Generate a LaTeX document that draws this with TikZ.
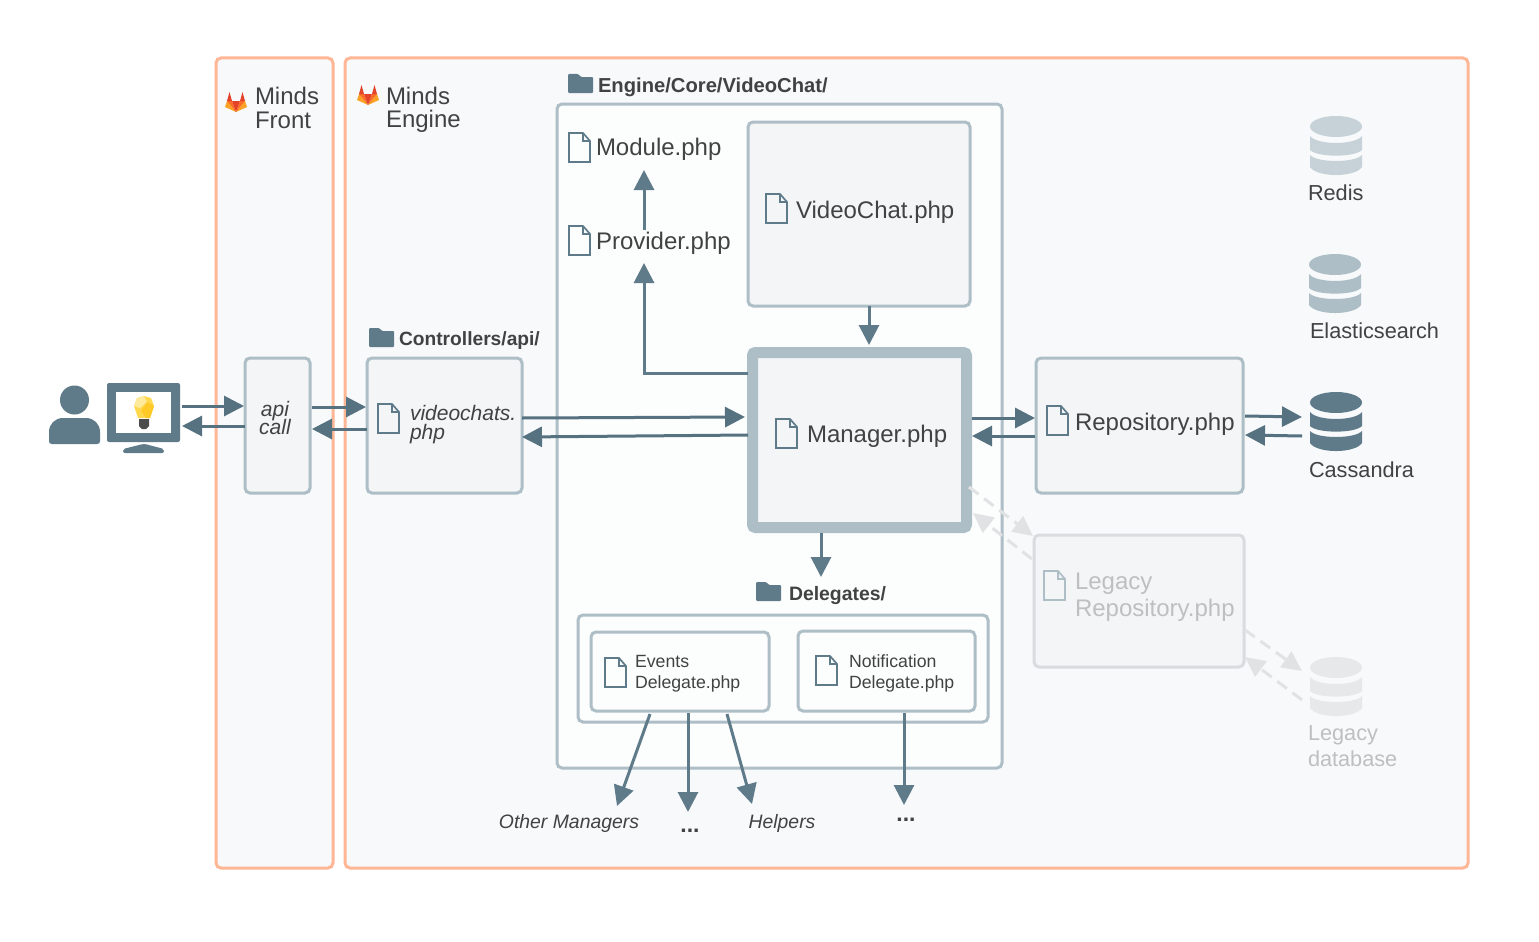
\documentclass[tikz,border=0pt]{standalone}
\usepackage{fontspec}
\setmainfont{Liberation Sans}
\usetikzlibrary{arrows.meta}
\definecolor{orangeb}{HTML}{FFB694}
\definecolor{panel}{HTML}{F7F9FB}
\definecolor{steel}{HTML}{AEBEC6}
\definecolor{slate}{HTML}{5F7B8A}
\definecolor{arrowc}{HTML}{56717F}
\definecolor{boxfill}{HTML}{F3F5F7}
\definecolor{inner}{HTML}{FCFDFD}
\definecolor{txt}{HTML}{424242}
\definecolor{faint}{HTML}{BDBFC1}
\definecolor{ghost}{HTML}{E0E2E3}
\definecolor{ghostb}{HTML}{D9DBDE}
\tikzset{
 x=1pt,y=-1pt,
 every node/.style={inner sep=0pt,outer sep=0pt,text=txt},
 pbox/.style={draw=steel,fill=boxfill,line width=3pt,rounded corners=5pt},
 flow/.style={draw=arrowc,line width=3pt,-{Triangle[length=20pt,width=20pt]}},
 vflow/.style={draw=slate,line width=3pt,-{Triangle[length=20pt,width=20pt]}},
 ghostflow/.style={draw=ghost,line width=3pt,dash pattern=on 12pt off 7pt,-{Triangle[length=20pt,width=19pt]}},
 lab/.style={anchor=west,align=left,yshift=-2.5pt,font=\fontsize{24}{28}\selectfont},
 small/.style={anchor=west,align=left,font=\fontsize{17.7}{22}\selectfont},
 dbl/.style={anchor=west,font=\fontsize{21.7}{24}\selectfont},
 ital/.style={anchor=west,font=\fontsize{21}{20}\selectfont\itshape},
 free/.style={font=\fontsize{19.4}{24}\selectfont\itshape,yshift=-2pt},
 dotsl/.style={font=\fontsize{23}{24}\selectfont\bfseries},
 head/.style={anchor=west,yshift=-2pt,font=\fontsize{#1}{24}\selectfont\bfseries},
}
\newcommand{\boxat}[6][]{\node[pbox,#1,minimum width=#4pt-#2pt,minimum height=#5pt-#3pt,anchor=north west] (#6) at (#2,#3) {};}
\newcommand{\fileicon}[3][slate]{\draw[#1,line width=1.7pt,line join=miter] (#2,#3) -- ++(14,0) -- ++(7,8) -- ++(0,21) -- ++(-21,0) -- cycle (#2+14,#3) -- ++(0,8) -- ++(7,0);}
\newcommand{\foldericon}[2]{\fill[slate,rounded corners=1pt] (#1,#2) -- ++(10,0) -- ++(3,3) -- ++(12,0) -- ++(0,16) -- ++(-25,0) -- cycle;}
\newcommand{\dbicon}[3]{\begin{scope}[shift={(#1,#2)}]
 \fill[#3] (26,10.5) ellipse[x radius=26,y radius=10.5];
 \fill[#3] (0,20) .. controls (7,29.3) and (45,29.3) .. (52,20) -- (52,34) .. controls (45,41.5) and (7,41.5) .. (0,34) -- cycle;
 \fill[#3] (0,39) .. controls (7,47) and (45,47) .. (52,39) -- (52,51) .. controls (45,61.7) and (7,61.7) .. (0,51) -- cycle;
\end{scope}}
\newcommand{\foxicon}[2]{\begin{scope}[shift={(#1,#2)}]
 \fill[foxc] (2,9) -- (0,15) -- (11,20) -- cycle (20,9) -- (22,15) -- (11,20) -- cycle;
 \fill[foxb] (2,9) -- (7,9) -- (11,20) -- cycle (20,9) -- (15,9) -- (11,20) -- cycle;
 \fill[foxa] (7,9) -- (15,9) -- (11,20) -- cycle (2,9) -- (4.5,0) -- (7,9) -- cycle (20,9) -- (17.5,0) -- (15,9) -- cycle;
\end{scope}}
\definecolor{foxa}{HTML}{E24329}
\definecolor{foxb}{HTML}{FC6D26}
\definecolor{foxc}{HTML}{FCA326}
\definecolor{bulba}{HTML}{FFD84D}
\definecolor{bulbb}{HTML}{FFC928}
\definecolor{bulbc}{HTML}{FFE99A}
\begin{document}
\begin{tikzpicture}
\useasboundingbox (0,0) rectangle (1539,942);
\fill[white] (0,0) rectangle (1539,942);
% regions
\node[draw=orangeb,fill=panel,line width=3pt,rounded corners=5pt,minimum width=117pt,minimum height=810pt,anchor=north west] (front) at (216,58) {};
\node[draw=orangeb,fill=panel,line width=3pt,rounded corners=5pt,minimum width=1123pt,minimum height=810pt,anchor=north west] (engine) at (345,58) {};
\node[draw=steel,fill=inner,line width=3pt,rounded corners=5pt,minimum width=445pt,minimum height=664pt,anchor=north west] (core) at (557,104) {};
\foxicon{225}{92}
\foxicon{357}{85}
\node[lab] (tfront) at (255,93) {Minds}; \node[lab] (tfront2) at (255,118) {Front};
\node[lab] (tengine) at (386,93) {Minds}; \node[lab] (tengine2) at (386,119) {Engine};
\foldericon{568}{74}
\node[head=20.2] (hcore) at (598,85) {Engine/Core/VideoChat/};
\foldericon{369}{328}
\node[head=19.2] (hctrl) at (399,339) {Controllers/api/};
\foldericon{756}{582}
\node[head=19.4] (hdel) at (789,594) {Delegates/};
% boxes
\boxat{245}{358}{310}{493}{api}
\boxat{367}{358}{522}{493}{vc}
\boxat{748}{122}{970}{306}{videochat}
\boxat[line width=11pt,rounded corners=3pt]{752.5}{352.5}{966.5}{527.5}{manager}
\boxat{1036}{358}{1243}{493}{repo}
\boxat[draw=ghostb]{1034}{535}{1244}{667}{legacy}
\boxat[fill=inner]{578}{615}{988}{722}{delout}
\boxat[fill=inner]{591}{632}{769}{711}{events}
\boxat[fill=inner]{798}{631}{975}{711}{notif}
% file icons & labels
\fileicon{569}{133}\node[lab] (module) at (596,147) {Module.php};
\fileicon{569}{226}\node[lab] (provider) at (596,241) {Provider.php};
\fileicon{766}{194}\node[lab] (tvc) at (796,210) {VideoChat.php};
\fileicon{776}{419}\node[lab] (tman) at (807,434) {Manager.php};
\fileicon{1047}{406}\node[lab] (trepo) at (1075,422) {Repository.php};
\fileicon[steel]{1044}{571}
\node[lab,text=faint] (tleg1) at (1075,581) {Legacy};
\node[lab,text=faint] (tleg2) at (1075,608) {Repository.php};
\fileicon{378}{404}
\node[ital] (tv1) at (410,413) {videochats.};
\node[ital] (tv2) at (410,434) {php};
\node[ital,anchor=center] (ta1) at (275,411) {api};
\node[ital,anchor=center] (ta2) at (275,427) {call};
\fileicon{605}{658}
\node[small] (te1) at (635,661) {Events}; \node[small] (te2) at (635,684) {Delegate.php};
\fileicon{816}{656}
\node[small] (tn1) at (849,661) {Notification}; \node[small] (tn2) at (849,684) {Delegate.php};
% databases
\dbicon{1310}{116}{steel!70}
\node[dbl] (redis) at (1308,193) {Redis};
\dbicon{1309}{254}{steel}
\node[dbl] (elastic) at (1310,331) {Elasticsearch};
\dbicon{1310}{392}{slate}
\coordinate (cass) at (1310,421);
\node[dbl] (tcass) at (1309,470) {Cassandra};
\dbicon{1310}{657}{ghost!80}
\coordinate (ldb) at (1310,686);
\node[dbl,text=faint] (tl1) at (1308,735) {Legacy};
\node[dbl,text=faint] (tl2) at (1308,759) {database};
% free labels
\node[free] (other) at (569,821) {Other Managers};
\node[free] (helpers) at (782,821) {Helpers};
\node[dotsl] (dots1) at (690,831) {...};
\node[dotsl] (dots2) at (906,820) {...};
% user and computer
\fill[slate] (74.5,400) circle (14.5);
\fill[slate] (49,441) -- (49,432) .. controls (49,424) and (55,418) .. (63,418) -- (86,418) .. controls (94,418) and (100,424) .. (100,432) -- (100,441) .. controls (100,443) and (99,444) .. (97,444) -- (52,444) .. controls (50,444) and (49,443) .. (49,441) -- cycle;
\node[fill=slate,rounded corners=2pt,minimum width=73pt,minimum height=59pt,anchor=north west] (monitor) at (107,383) {};
\fill[white] (116,392) rectangle (171,433);
\fill[slate,rounded corners=2pt] (123,453) -- (123,449) -- (143,444) -- (145,444) -- (164,449) -- (164,453) -- cycle;
\fill[bulba] (144,396) -- (151,398) -- (154,406) -- (150,418) -- (138,418) -- (134,406) -- (137,398) -- cycle;
\fill[bulbc] (137,398) -- (144,396) -- (147,402) -- (140,408) -- (134,406) -- cycle;
\fill[bulbb] (147,402) -- (154,406) -- (150,418) -- (146,418) -- (141,411) -- cycle;
\fill[black!70] (139,419) -- (149,419) -- (149,426) -- (146,429) -- (142,429) -- (139,426) -- cycle;
% connectors
\draw[flow] ([shift={(2,-6.5)}]monitor.east) -- ([shift={(-1,-19.5)}]api.west);
\draw[flow] ([shift={(0,.5)}]api.west) -- ([shift={(2,13.5)}]monitor.east);
\draw[flow] ([shift={(2,-18.5)}]api.east) -- ([shift={(-1,-18.5)}]vc.west);
\draw[flow] ([shift={(0,3.5)}]vc.west) -- ([shift={(2,3.5)}]api.east);
\draw[flow] ([shift={(0,-7.5)}]vc.east) -- ([shift={(-7.5,-23)}]manager.west);
\draw[flow] ([shift={(-4.5,-5)}]manager.west) -- ([shift={(0,11.5)}]vc.east);
\draw[flow] ([shift={(5.5,-22)}]manager.east) -- ([shift={(-1,-7.5)}]repo.west);
\draw[flow] ([shift={(-1,10.5)}]repo.west) -- ([shift={(5.5,-4)}]manager.east);
\draw[flow] ([shift={(2,-9.5)}]repo.east) -- ([shift={(-8,-4)}]cass);
\draw[flow] ([shift={(-8,15)}]cass) -- ([shift={(2,9.5)}]repo.east);
\draw[vflow] ([shift={(48,-13.5)}]provider.west) -- ([shift={(48,20.5)}]module.west);
\draw[vflow] ([shift={(-4.5,-67)}]manager.west) -| ([shift={(48,19.5)}]provider.west);
\draw[vflow] ([shift={(10,0)}]videochat.south) -- ([shift={(9.5,-7.5)}]manager.north);
\draw[vflow] ([shift={(-38.5,5.5)}]manager.south) -- ([shift={(32,-19)}]hdel.west);
\draw[vflow] ([shift={(-30,3)}]events.south) -- ([shift={(48,-17)}]other.center);
\draw[vflow] ([shift={(8,2)}]events.south) -- ([shift={(-2,-19)}]dots1.center);
\draw[vflow] ([shift={(47,3)}]events.south) -- ([shift={(-30,-19)}]helpers.center);
\draw[vflow] ([shift={(17.5,2)}]notif.south) -- ([shift={(-2,-15)}]dots2.center);
\draw[ghostflow] ([shift={(2.5,-40.5)}]manager.south east) -- ([shift={(-1,1)}]legacy.north west);
\draw[ghostflow] ([shift={(-2,24)}]legacy.north west) -- ([shift={(6.5,-14.5)}]manager.south east);
\draw[ghostflow] ([shift={(1,-37)}]legacy.south east) -- ([shift={(-8,-15)}]ldb);
\draw[ghostflow] ([shift={(-8,14)}]ldb) -- ([shift={(1,-10)}]legacy.south east);
\end{tikzpicture}
\end{document}
